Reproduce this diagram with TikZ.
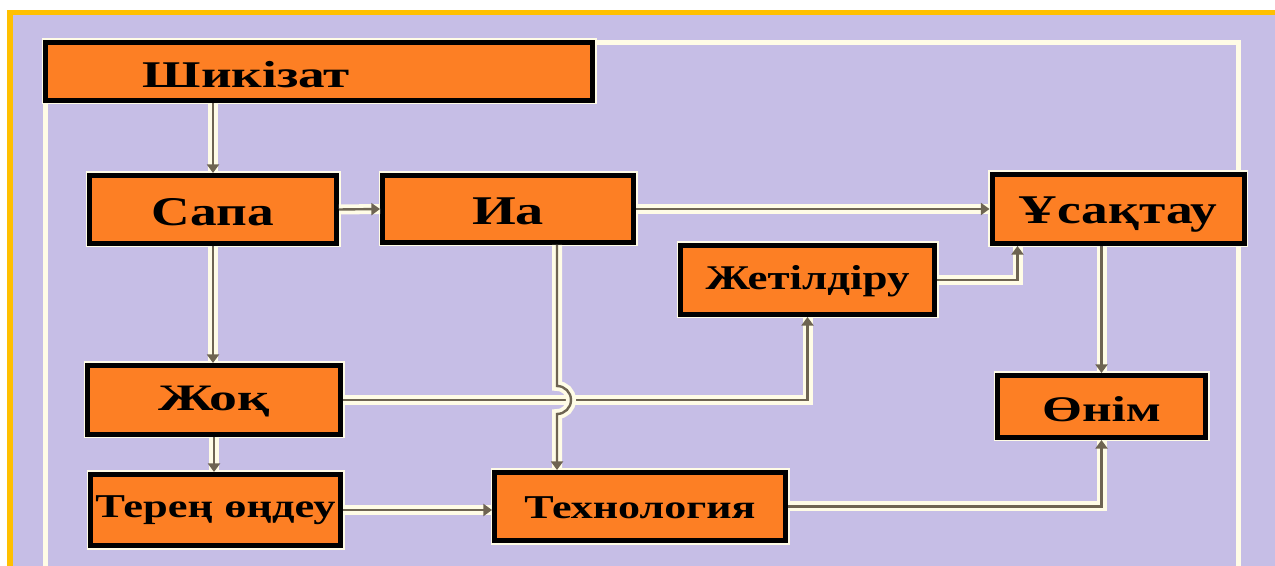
\documentclass[tikz,border=0pt]{standalone}
\usepackage{fontspec}
\setmainfont{Liberation Serif}
\usetikzlibrary{arrows.meta}
\definecolor{lav}{HTML}{C6BEE6}
\definecolor{orng}{HTML}{FD7F24}
\definecolor{yel}{HTML}{FFC000}
\definecolor{crm}{HTML}{FFFCE6}
\definecolor{lnk}{HTML}{6E6452}
\newdimen\pxu \pxu=0.75pt
% #1 = vertical offset downwards (px), #2 = width (px), #3 = font size (pt), #4 = text
\newcommand\tx[4]{\raisebox{\dimexpr -#3pt*331/1000 - #1\pxu\relax}[0pt][0pt]{\resizebox{#2\pxu}{\height}{\fontsize{#3}{#3}\selectfont\bfseries #4}}}
\tikzset{
  bx/.style 2 args={draw=black, fill=orng, line width=3.75pt, inner sep=0pt,
    minimum width=#1*0.75pt-3.75pt, minimum height=#2*0.75pt-3.75pt,
    preaction={draw=crm, line width=6pt}},
  conn/.style={draw=lnk, line width=1.8pt, -{Triangle[width=9pt,length=6.5pt]},
    preaction={draw=crm, line width=7.5pt, arrows=-}},
}
\begin{document}
\begin{tikzpicture}[x=0.75pt,y=-0.75pt]
\useasboundingbox (0,0) rectangle (1275,566);
\fill[white] (0,0) rectangle (1275,566);
\fill[yel] (7,10) rectangle (1275,566);
\fill[lav] (13,15) rectangle (1275,566);
\draw[crm, line width=3.75pt] (45.5,42.5) rectangle (1238.5,600);
% boxes
\node[bx={552}{63}] (shik) at (319,71.5) {\tx{4}{207}{28.3}{Шикізат}\rule{108.75pt}{0pt}};
\node[bx={252}{73}] (sapa) at (213,209.5) {\tx{2}{122}{30.6}{Сапа}};
\node[bx={256}{72}] (ia) at (508,209) {\tx{2}{72}{30.6}{Иа}};
\node[bx={257}{74}] (usaq) at (1118,209) {\tx{0.5}{198}{30.6}{Ұсақтау}};
\node[bx={259}{74}] (zhet) at (807.5,280) {\tx{-1.5}{204}{26}{Жетілдіру}};
\node[bx={258}{74}] (zhoq) at (214,400) {\tx{-1.5}{111}{28}{Жоқ}};
\node[bx={213}{67}] (onim) at (1101.5,406.5) {\tx{3.5}{119}{27}{Өнім}};
\node[bx={255}{76}] (teren) at (215.5,510) {\tx{-4}{240}{25}{Терең өңдеу}};
\node[bx={296}{73}] (tech) at (640,506.5) {\tx{1}{231}{25}{Технология}};
% connectors
\draw[conn] (sapa.north |- shik.south) -- (sapa.north);
\draw[conn] (sapa.east) -- (ia.west);
\draw[conn] (ia.east) -- (ia.east -| usaq.west);
\draw[conn] (sapa.south) -- (sapa.south |- zhoq.north);
\draw[conn] (zhoq.east) -| (zhet.south);
\draw[conn] (zhet.east) -| ([xshift=21pt]usaq.south west);
\draw[conn] (usaq.south -| onim.north) -- (onim.north);
\draw[conn] (zhoq.south) -- (zhoq.south |- teren.north);
\draw[conn] (teren.east) -- (teren.east -| tech.west);
\draw[conn] (tech.east) -| (onim.south);
\coordinate (hopA) at ([xshift=36.75pt]ia.south);
\draw[conn] (hopA) -- (hopA |- 0,386) arc (-90:90:14) -- (hopA |- tech.north);
\end{tikzpicture}
\end{document}
